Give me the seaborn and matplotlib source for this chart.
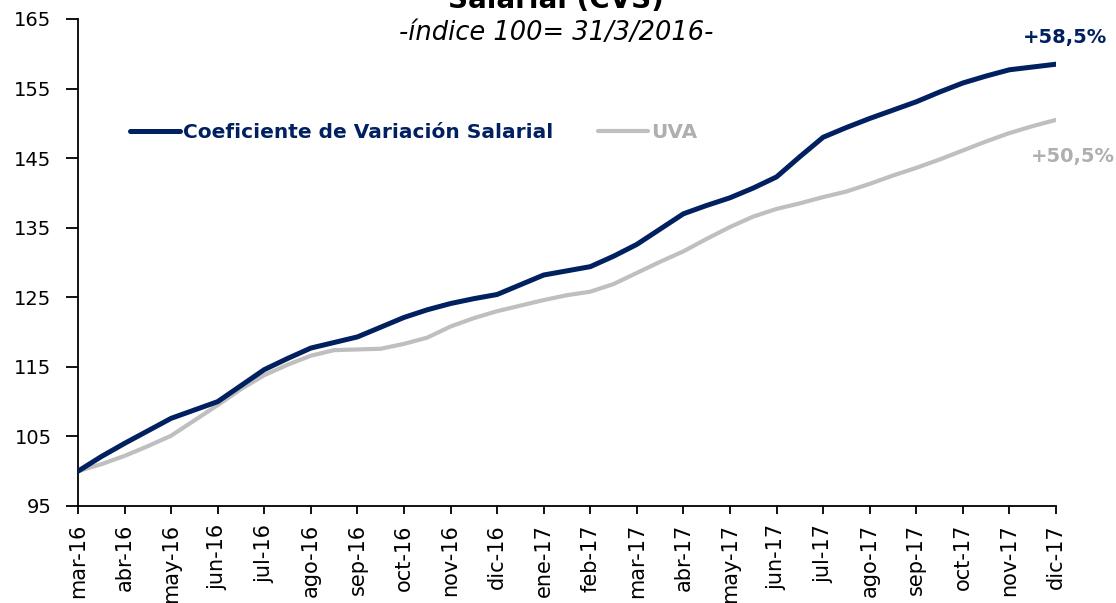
import numpy as np
import pandas as pd
import matplotlib
matplotlib.use("Agg")
import matplotlib.pyplot as plt
import seaborn as sns

# meses del eje x
meses = ['mar-16', 'abr-16', 'may-16', 'jun-16', 'jul-16', 'ago-16', 'sep-16',
         'oct-16', 'nov-16', 'dic-16', 'ene-17', 'feb-17', 'mar-17', 'abr-17',
         'may-17', 'jun-17', 'jul-17', 'ago-17', 'sep-17', 'oct-17', 'nov-17',
         'dic-17']

# posicion en meses desde 31/3/2016 (cada medio mes)
t = [i / 2 for i in range(43)]

cvs = [100.0, 102.1, 104.0, 105.8, 107.6, 108.8, 110.0, 112.3, 114.6, 116.2,
       117.7, 118.5, 119.3, 120.7, 122.1, 123.2, 124.1, 124.8, 125.4, 126.8,
       128.2, 128.8, 129.4, 130.9, 132.6, 134.8, 137.0, 138.2, 139.3, 140.7,
       142.3, 145.2, 148.0, 149.4, 150.7, 151.9, 153.1, 154.5, 155.8, 156.8,
       157.7, 158.1, 158.5]

uva = [100.0, 101.0, 102.2, 103.6, 105.1, 107.3, 109.5, 111.8, 113.8, 115.3,
       116.6, 117.4, 117.5, 117.6, 118.3, 119.2, 120.8, 122.0, 123.0, 123.8,
       124.6, 125.3, 125.8, 126.9, 128.5, 130.1, 131.6, 133.4, 135.1, 136.6,
       137.7, 138.5, 139.4, 140.2, 141.3, 142.5, 143.6, 144.8, 146.1, 147.4,
       148.6, 149.6, 150.5]

series = ['Coeficiente de Variación Salarial', 'UVA']
colores = {'Coeficiente de Variación Salarial': '#002060', 'UVA': '#BFBFBF'}

df = pd.concat([
    pd.DataFrame({'t': t, 'valor': cvs, 'serie': series[0]}),
    pd.DataFrame({'t': t, 'valor': uva, 'serie': series[1]}),
])

sns.set_style('white')
plt.rcParams['font.family'] = ['DejaVu Sans']

fig = plt.figure(figsize=(11.16, 6.03), dpi=100)
ax = fig.add_axes([0.0699, 0.1609, 0.8763, 0.8076])

sns.lineplot(data=df, x='t', y='valor', hue='serie', palette=colores,
             ax=ax, legend=False)
ax.lines[0].set_linewidth(3.6)
ax.lines[1].set_linewidth(3.0)
ax.lines[0].set_zorder(3)

ax.set_xlim(0, 21)
ax.set_ylim(95, 165)
ax.set_yticks(range(95, 166, 10))
ax.set_xticks(range(len(meses)))
ax.set_xticklabels(meses, rotation=90)
ax.set_xlabel('')
ax.set_ylabel('')
ax.tick_params(axis='y', labelsize=14, length=9, width=1.3, direction='out',
               left=True, pad=10, colors='black')
ax.tick_params(axis='x', labelsize=15, length=6, width=1.3, direction='out',
               bottom=True, pad=7, colors='black')
for s in ['top', 'right']:
    ax.spines[s].set_visible(False)
for s in ['left', 'bottom']:
    ax.spines[s].set_color('black')
    ax.spines[s].set_linewidth(1.3)

# leyenda
handles = [plt.Line2D([], [], color=colores[s], lw=3.6 if i == 0 else 3.0)
           for i, s in enumerate(series)]
leg = ax.legend(handles, series, loc='center left', bbox_to_anchor=(0.053, 0.766),
                ncol=2, frameon=False, borderaxespad=0, borderpad=0,
                handlelength=2.5, handletextpad=0.15, columnspacing=2.2,
                prop={'weight': 'bold', 'size': 14.5})
for txt, c in zip(leg.get_texts(), ['#002060', '#AFAFAF']):
    txt.set_color(c)

ax.text(21.2, 162.3, '+58,5%', color='#002060', fontsize=14, weight='bold',
        ha='center', va='center', clip_on=False)
ax.text(21.37, 145.2, '+50,5%', color='#AFAFAF', fontsize=14, weight='bold',
        ha='center', va='center', clip_on=False)

fig.text(556 / 1116, 1 - 8 / 603, 'Salarial (CVS)', ha='center',
         va='baseline', fontsize=20, weight='bold', color='black')
fig.text(556 / 1116, 1 - 33 / 603, '-índice 100= 31/3/2016-', ha='center',
         va='center', fontsize=18.5, style='italic', color='black')

fig.savefig('out.png', dpi=100)
